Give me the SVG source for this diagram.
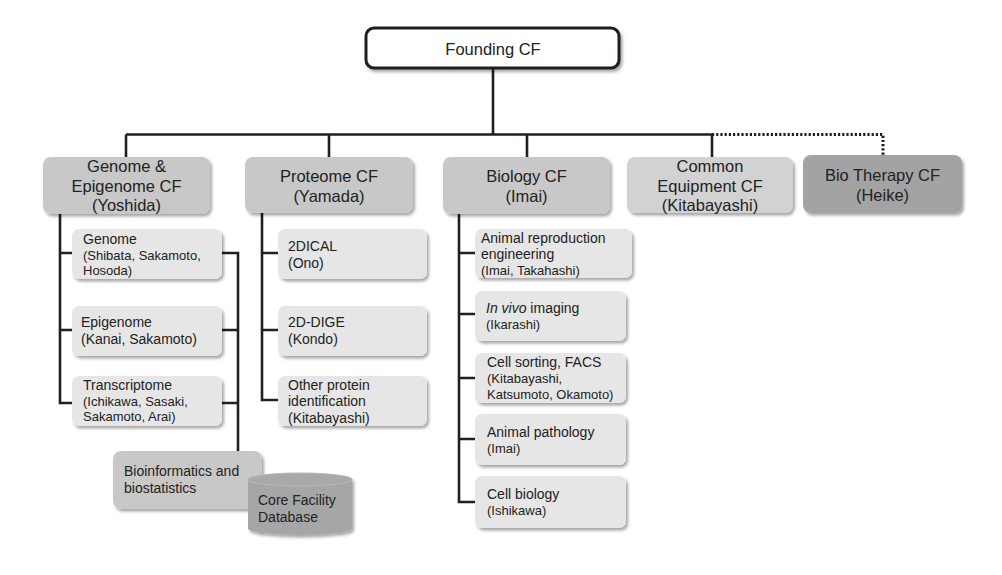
<svg xmlns="http://www.w3.org/2000/svg" width="1002" height="575" viewBox="0 0 1002 575">
<defs>
<filter id="sh" x="-10%" y="-10%" width="125%" height="135%">
<feDropShadow dx="2" dy="2.5" stdDeviation="1.5" flood-color="#000" flood-opacity="0.35"/>
</filter>
</defs>
<style>
text{font-family:"Liberation Sans",Arial,sans-serif;fill:#222;}
.t16{font-size:16.5px;text-anchor:middle;}
.t14{font-size:14px;}
.t13{font-size:13px;}
.main{fill:#c8c8c8;filter:url(#sh);}
.sub{fill:#e6e6e6;filter:url(#sh);}
.ln{stroke:#231f20;stroke-width:2.6;fill:none;}
.dot{stroke:#231f20;stroke-width:3;fill:none;stroke-dasharray:2.2 2;}
</style>
<rect width="1002" height="575" fill="#fff"/>

<g id="connectors">
<path class="ln" d="M493 68V134.5M126 134.5H712M126 134.5V157M329 134.5V157M527 134.5V157M712 134.5V157" stroke-width="2.2"/>
<path class="dot" d="M712 134.5H883V155"/>
<path class="ln" d="M60 214V403H72M60 253H72M60 330H72"/>
<path class="ln" d="M222 253H238V451M222 330H238M222 403H238"/>
<path class="ln" d="M262 213V400H278M262 253H278M262 330H278"/>
<path class="ln" d="M459 214V502H475M459 253H475M459 314H475M459 378H475M459 439H475"/>
</g>

<g id="founding">
<rect x="366" y="28" width="253" height="40" rx="8" fill="#fff" stroke="#231f20" stroke-width="3" filter="url(#sh)"/>
<text class="t16" x="493" y="55">Founding CF</text>
</g>

<g id="genome-cf">
<rect class="main" x="43" y="157" width="167" height="57" rx="8"/>
<text class="t16" x="126.5" y="172">Genome &amp;</text>
<text class="t16" x="126.5" y="192">Epigenome CF</text>
<text class="t16" x="126.5" y="211">(Yoshida)</text>
</g>
<g id="proteome-cf">
<rect class="main" x="245" y="157" width="168" height="56" rx="8"/>
<text class="t16" x="329" y="182">Proteome CF</text>
<text class="t16" x="329" y="202">(Yamada)</text>
</g>
<g id="biology-cf">
<rect class="main" x="443" y="157" width="167" height="57" rx="8"/>
<text class="t16" x="526.5" y="182">Biology CF</text>
<text class="t16" x="526.5" y="202">(Imai)</text>
</g>
<g id="common-cf">
<rect class="main" x="627" y="157" width="166" height="56" rx="8" style="fill:#d2d2d2"/>
<text class="t16" x="710" y="172">Common</text>
<text class="t16" x="710" y="192">Equipment CF</text>
<text class="t16" x="710" y="211">(Kitabayashi)</text>
</g>
<g id="biotherapy-cf">
<rect class="main" x="803" y="155" width="159" height="58" rx="8" style="fill:#a3a3a3"/>
<text class="t16" x="882.5" y="180.5">Bio Therapy CF</text>
<text class="t16" x="882.5" y="200.5">(Heike)</text>
</g>

<g id="genome">
<rect class="sub" x="72" y="229" width="150" height="50" rx="7"/>
<text class="t14" x="83" y="244">Genome</text>
<text class="t13" x="83" y="260">(Shibata, Sakamoto,</text>
<text class="t13" x="83" y="275">Hosoda)</text>
</g>
<g id="epigenome">
<rect class="sub" x="72" y="306" width="150" height="50" rx="7"/>
<text class="t14" x="81" y="327">Epigenome</text>
<text class="t14" x="81" y="344">(Kanai, Sakamoto)</text>
</g>
<g id="transcriptome">
<rect class="sub" x="72" y="376" width="150" height="50" rx="7"/>
<text class="t14" x="83" y="390">Transcriptome</text>
<text class="t13" x="83" y="405.5">(Ichikawa, Sasaki,</text>
<text class="t13" x="83" y="421">Sakamoto, Arai)</text>
</g>
<g id="bioinformatics">
<rect class="main" x="113" y="451" width="149" height="58" rx="8"/>
<text class="t14" x="124" y="476">Bioinformatics and</text>
<text class="t14" x="124" y="493">biostatistics</text>
</g>
<g id="database">
<path d="M248 479.5V528.5A52 6.5 0 0 0 352 528.5V479.5A52 6.5 0 0 0 248 479.5Z" fill="#a6a6a6" filter="url(#sh)"/>
<ellipse cx="300" cy="479.5" rx="52" ry="6.5" fill="#a9a9a9" stroke="#b9b9b9" stroke-width="1"/>
<text class="t14" x="258" y="504.5">Core Facility</text>
<text class="t14" x="258" y="521.5">Database</text>
</g>

<g id="dical">
<rect class="sub" x="278" y="229" width="149" height="50" rx="7"/>
<text class="t14" x="288" y="250.5">2DICAL</text>
<text class="t14" x="288" y="267.5">(Ono)</text>
</g>
<g id="dige">
<rect class="sub" x="278" y="306" width="149" height="50" rx="7"/>
<text class="t14" x="288" y="327">2D-DIGE</text>
<text class="t14" x="288" y="344">(Kondo)</text>
</g>
<g id="other-protein">
<rect class="sub" x="278" y="376" width="149" height="50" rx="7"/>
<text class="t14" x="288" y="389.5">Other protein</text>
<text class="t14" x="288" y="405.5">identification</text>
<text class="t14" x="288" y="422.5">(Kitabayashi)</text>
</g>

<g id="animal-repro">
<rect class="sub" x="475" y="229" width="157" height="49" rx="7"/>
<text class="t14" x="481" y="242.5">Animal reproduction</text>
<text class="t14" x="481" y="259">engineering</text>
<text class="t13" x="481" y="275">(Imai, Takahashi)</text>
</g>
<g id="invivo">
<rect class="sub" x="475" y="291" width="151" height="50" rx="7"/>
<text class="t14" x="486" y="313"><tspan font-style="italic">In vivo</tspan> imaging</text>
<text class="t13" x="486" y="329">(Ikarashi)</text>
</g>
<g id="cell-sorting">
<rect class="sub" x="475" y="353" width="151" height="50" rx="7"/>
<text class="t14" x="487" y="366.5">Cell sorting, FACS</text>
<text class="t13" x="487" y="382.5">(Kitabayashi,</text>
<text class="t13" x="487" y="398.5">Katsumoto, Okamoto)</text>
</g>
<g id="animal-pathology">
<rect class="sub" x="475" y="414" width="151" height="51" rx="7"/>
<text class="t14" x="487" y="436.5">Animal pathology</text>
<text class="t13" x="487" y="452.5">(Imai)</text>
</g>
<g id="cell-biology">
<rect class="sub" x="475" y="476" width="151" height="52" rx="7"/>
<text class="t14" x="487" y="499">Cell biology</text>
<text class="t13" x="487" y="515">(Ishikawa)</text>
</g>
</svg>
